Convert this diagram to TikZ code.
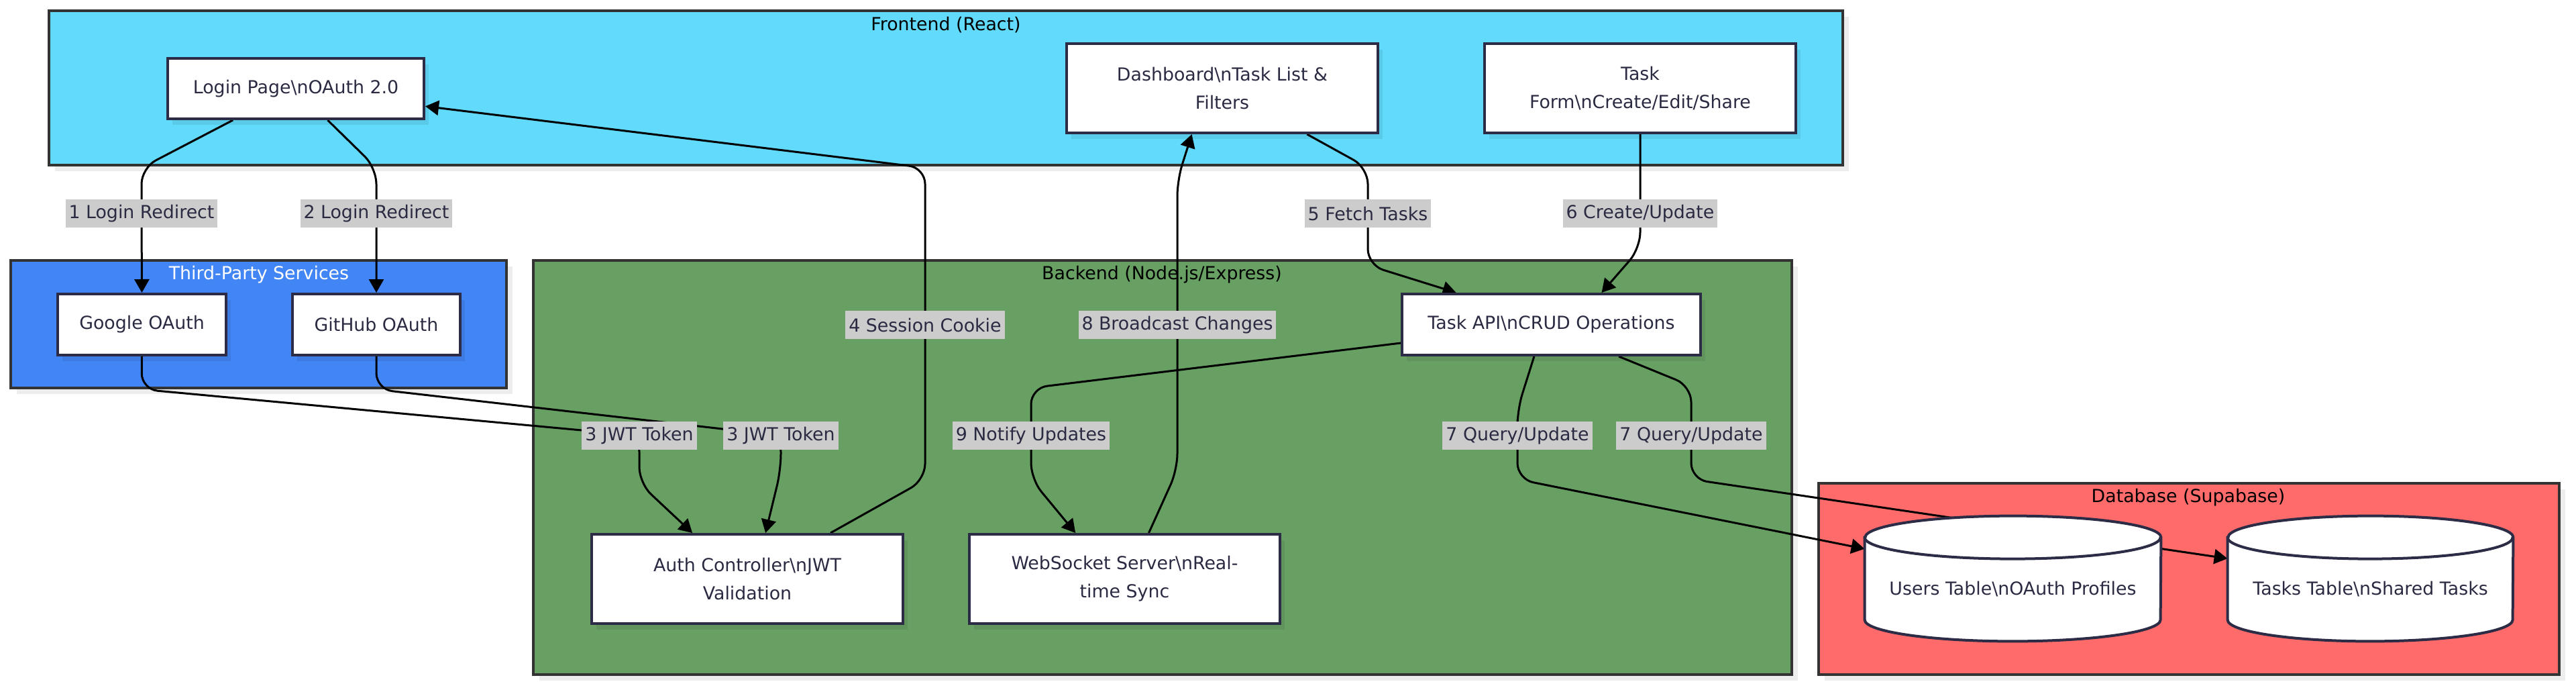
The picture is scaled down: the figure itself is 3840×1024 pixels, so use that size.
\documentclass[tikz,border=0pt]{standalone}
\usepackage{fontspec}
\setmainfont{DejaVu Sans}
\usetikzlibrary{arrows.meta,calc,shadows}

\definecolor{frontfill}{HTML}{61DAFB}
\definecolor{thirdfill}{HTML}{4285F4}
\definecolor{backfill}{HTML}{68A063}
\definecolor{dbfill}{HTML}{FF6B6B}
\definecolor{lblgrey}{HTML}{CCCCCC}
\definecolor{clusterline}{HTML}{333333}
\definecolor{nodeline}{HTML}{2C2C46}
\definecolor{textnavy}{HTML}{2A2A42}

\pgfdeclarelayer{bg}
\pgfdeclarelayer{edges}
\pgfsetlayers{bg,edges,main}

\newcommand\bsn{\textbackslash n}

\tikzset{
  cluster/.style={draw=clusterline, line width=2pt,
    drop shadow={shadow xshift=4.5pt, shadow yshift=-4.5pt, fill=black, opacity=0.07}},
  box/.style={draw=nodeline, fill=white, line width=2pt, text=textnavy, align=center, inner sep=2pt,
    drop shadow={shadow xshift=3.5pt, shadow yshift=-4.5pt, fill=black, opacity=0.07}},
  ctitle/.style={text=black},
  lbl/.style={fill=lblgrey, text=textnavy, inner xsep=2.5pt, inner ysep=0pt, minimum height=21pt},
  edge/.style={draw=black, line width=1.5pt, rounded corners=12pt, -{Triangle[length=10pt,width=11pt]}},
  dbline/.style={draw=nodeline, line width=2pt},
}

% cylinder round a node: #1 node, #2 half width
\newcommand\dbdraw[2]{%
  \fill[black, opacity=0.07, xshift=4pt, yshift=-4pt] ($(#1.north west)+(0,32)$) -- ($(#1.south west)+(0,-32)$)
    arc[start angle=180, end angle=360, x radius=#2, y radius=16pt] -- ($(#1.north east)+(0,32)$)
    arc[start angle=0, end angle=180, x radius=#2, y radius=16pt] -- cycle;
  \draw[dbline, fill=white] ($(#1.north west)+(0,32)$) -- ($(#1.south west)+(0,-32)$)
    arc[start angle=180, end angle=360, x radius=#2, y radius=16pt] -- ($(#1.north east)+(0,32)$)
    arc[start angle=0, end angle=180, x radius=#2, y radius=16pt] -- cycle;
  \draw[dbline] ($(#1.north west)+(0,32)$) arc[start angle=180, end angle=360, x radius=#2, y radius=16pt];
}

\begin{document}
\begin{tikzpicture}[x=0.5pt, y=-0.5pt, every node/.style={font=\fontsize{13.4}{21}\selectfont}]
  \useasboundingbox (0,0) rectangle (3840,1024);

  \begin{pgfonlayer}{bg}
    \draw[cluster, fill=frontfill] (73,16) rectangle (2747,246);     % Frontend
    \node[ctitle] (tfront) at (1410,37) {Frontend (React)};
    \draw[cluster, fill=thirdfill] (16,388) rectangle (755,578);     % Third-Party
    \node[ctitle, text=white] (tthird) at (386,409) {Third-Party Services};
    \draw[cluster, fill=backfill] (795,388) rectangle (2671,1005);   % Backend
    \node[ctitle] (tback) at (1732,409) {Backend (Node.js/Express)};
    \draw[cluster, fill=dbfill] (2711,720) rectangle (3815,1005);    % Database
    \node[ctitle] (tdb) at (3262,741) {Database (Supabase)};
  \end{pgfonlayer}

  % frontend
  \node[box, minimum width=191pt, minimum height=45pt] (login) at (441,132) {Login Page\bsn OAuth 2.0};
  \node[box, minimum width=232pt, minimum height=66.5pt] (dash) at (1822,131.5) {Dashboard\bsn Task List \&\\Filters};
  \node[box, minimum width=232pt, minimum height=66.5pt] (form) at (2445,131.5) {Task\\Form\bsn Create/Edit/Share};
  % third-party
  \node[box, minimum width=125.5pt, minimum height=45.5pt] (google) at (211.5,483.5) {Google OAuth};
  \node[box, minimum width=125pt, minimum height=45.5pt] (github) at (561,483.5) {GitHub OAuth};
  % backend
  \node[box, minimum width=222.5pt, minimum height=45.5pt] (api) at (2312.5,483.5) {Task API\bsn CRUD Operations};
  \node[box, minimum width=232pt, minimum height=66.5pt] (auth) at (1114,862.5) {Auth Controller\bsn JWT\\Validation};
  \node[box, minimum width=231.5pt, minimum height=66.5pt] (ws) at (1676.5,862.5) {WebSocket Server\bsn Real-\\time Sync};
  % database
  \node[minimum width=220.5pt, minimum height=93pt, inner sep=0pt] (users) at (3000.5,862) {};
  \node[minimum width=212.5pt, minimum height=93pt, inner sep=0pt] (tasks) at (3533.5,862) {};
  \dbdraw{users}{110.25pt}
  \dbdraw{tasks}{106.25pt}
  \node[text=textnavy] (userstxt) at (3000.5,878) {Users Table\bsn OAuth Profiles};
  \node[text=textnavy] (taskstxt) at (3533.5,878) {Tasks Table\bsn Shared Tasks};

  % edge labels
  \node[lbl] (l1) at (211,318) {1 Login Redirect};
  \node[lbl] (l2) at (561,318) {2 Login Redirect};
  \node[lbl] (l3a) at (953,649) {3 JWT Token};
  \node[lbl] (l3b) at (1164,649) {3 JWT Token};
  \node[lbl] (l4) at (1379,484) {4 Session Cookie};
  \node[lbl] (l5) at (2039,318) {5 Fetch Tasks};
  \node[lbl] (l6) at (2445,318) {6 Create/Update};
  \node[lbl] (l7a) at (2262,649) {7 Query/Update};
  \node[lbl] (l7b) at (2521,649) {7 Query/Update};
  \node[lbl] (l8) at (1755,484) {8 Broadcast Changes};
  \node[lbl] (l9) at (1537,649) {9 Notify Updates};

  \begin{pgfonlayer}{edges}
    \draw[edge] ($(login.south west)!0.257!(login.south east)$) -- (211,250) -- (l1.center) -- (google.north);
    \draw[edge] ($(login.south west)!0.623!(login.south east)$) -- (561,250) -- (l2.center) -- (github.north);
    \draw[edge] (google.south) -- (211,580) -- (l3a.center) -- (953,720) -- ($(auth.north west)!0.325!(auth.north east)$);
    \draw[edge] (github.south) -- (561,580) -- (l3b.center) -- (1164,700) -- ($(auth.north west)!0.558!(auth.north east)$);
    \draw[edge] ($(auth.north west)!0.765!(auth.north east)$) -- (1379,715) -- (l4.center) -- (1379,250) -- ($(login.north east)!0.78!(login.south east)$);
    \draw[edge] ($(dash.south west)!0.77!(dash.south east)$) -- (2039,250) -- (l5.center) -- (2039,395) -- ($(api.north west)!0.184!(api.north east)$);
    \draw[edge] (form.south) -- (l6.center) -- (2445,370) -- ($(api.north west)!0.667!(api.north east)$);
    \draw[edge] ($(api.south west)!0.443!(api.south east)$) -- (2262,610) -- (l7a.center) -- (2262,714) -- ($(users.north west)!0.263!(users.south west)$);
    \draw[edge] ($(api.south west)!0.724!(api.south east)$) -- (2521,575) -- (l7b.center) -- (2521,714) -- ($(tasks.north west)!0.34!(tasks.south west)$);
    \draw[edge] ($(ws.north west)!0.577!(ws.north east)$) -- (1755,700) -- (l8.center) -- (1755,268) -- ($(dash.south west)!0.403!(dash.south east)$);
    \draw[edge] ($(api.north west)!0.79!(api.south west)$) -- (1537,578) -- (l9.center) -- (1537,714) -- ($(ws.north west)!0.343!(ws.north east)$);
  \end{pgfonlayer}
\end{tikzpicture}
\end{document}
